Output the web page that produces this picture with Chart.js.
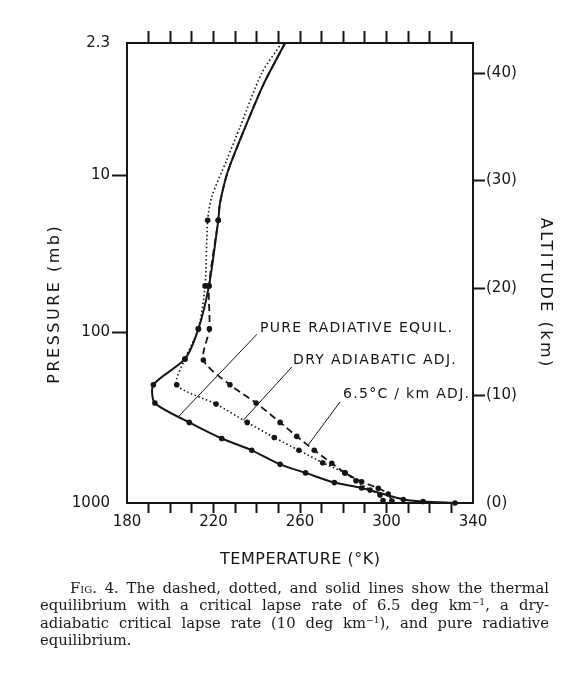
<!DOCTYPE html>
<html>
<head>
<meta charset="utf-8">
<title>Fig. 4 — thermal equilibrium profiles</title>
<script src="https://cdn.jsdelivr.net/npm/chart.js@4.4.1/dist/chart.umd.min.js"></script>
<style>
    html, body { margin: 0; padding: 0; background: #fff; }
    #wrap { position: relative; width: 587px; height: 678px; }
    #chart { position: absolute; left: 0; top: 0; }
    #caption {
        position: absolute; left: 40px; top: 579px; width: 509px;
        font: 14.8px/17.4px "DejaVu Serif", serif; color: #1a1a1a;
    }
    #caption .j { text-align: justify; text-align-last: justify; white-space: nowrap; }
    #caption .sc { font-variant: small-caps; }
    #caption sup { font-size: 0.62em; line-height: 0; vertical-align: 0.5em; }
</style>
</head>
<body>
<div id="wrap">
    <canvas id="chart" width="587" height="678"></canvas>
    <div id="caption">
        <div class="j" style="padding-left:30px"><span class="sc">Fig</span>. 4. The dashed, dotted, and solid lines show the thermal</div>
        <div class="j">equilibrium with a critical lapse rate of 6.5 deg km<sup>−1</sup>, a dry-</div>
        <div class="j">adiabatic critical lapse rate (10 deg km<sup>−1</sup>), and pure radiative</div>
        <div>equilibrium.</div>
    </div>
</div>
<script>
// ─── Data (temperature in K, altitude in km) ─────────────────────────
// pure radiative equilibrium (solid)
const radTemp = [253.1, 243.0, 232.3, 226.4, 223.0, 222.2, 217.9, 213.0, 206.8, 192.2, 192.9,
                 208.8, 223.8, 237.7, 250.8, 262.6, 275.9, 288.5, 307.8, 316.9, 331.7];
const radAlt  = [42.8, 38.9, 33.8, 30.7, 27.9, 26.3, 20.2, 16.2, 13.4, 11.0, 9.3,
                 7.5, 6.0, 4.9, 3.6, 2.8, 1.9, 1.4, 0.33, 0.14, 0];

// 6.5 deg/km critical lapse rate (dashed)
const lapseTemp = [253.1, 243.0, 232.3, 226.4, 223.0, 222.2, 217.9, 218.1, 215.3, 227.6,
                   239.7, 250.8, 258.5, 266.6, 274.7, 280.8, 288.5, 296.2, 300.8, 302.5];
const lapseAlt  = [42.8, 38.9, 33.8, 30.7, 27.9, 26.3, 20.2, 16.2, 13.3, 11.0,
                   9.3, 7.5, 6.2, 4.9, 3.7, 2.8, 1.98, 1.37, 0.84, 0.19];

// dry adiabatic adjustment (dotted)
const dryTemp = [251.5, 242.3, 232.3, 226.1, 219.2, 217.3, 216.1, 213.0, 206.8, 203.0,
                 221.2, 235.6, 248.1, 259.5, 270.5, 280.8, 285.9, 292.4, 297.0, 298.4];
const dryAlt  = [42.8, 40.0, 35.0, 31.9, 28.5, 26.3, 20.2, 16.2, 13.4, 11.0,
                 9.2, 7.5, 6.1, 4.9, 3.75, 2.8, 2.07, 1.21, 0.74, 0.23];

// axis ticks
const tempLabels = [180, 220, 260, 300, 340];
const pressureLabels = ['1000', '100', '10', '2.3'];
const pressureAlt = [0, 15.9, 30.5, 42.8];
const altitudeTicks = [0, 10, 20, 30, 40];

// ─── Styling ─────────────────────────────────────────────────────────
const INK = '#151515';
const TOP_KM = 42.8;
const MARKED_BELOW_KM = 26.5;
const SANS = '"DejaVu Sans", sans-serif';

const callouts = [
    { text: 'PURE RADIATIVE EQUIL.', at: [241.5, 16.23], from: [240.1, 15.7], to: [203.6, 8.0] },
    { text: 'DRY ADIABATIC ADJ.',    at: [256.8, 13.3],  from: [256.2, 12.65], to: [233.8, 7.7] },
    { text: '6.5°C / km ADJ.',       at: [279.9, 10.14], from: [278.5, 9.4],  to: [263.8, 5.4] },
];

function toPoints(xs, ys) {
    return xs.map((v, i) => ({ x: v, y: ys[i] }));
}

function series(xs, ys, dash, width) {
    return {
        data: toPoints(xs, ys),
        showLine: true,
        borderColor: INK,
        backgroundColor: INK,
        borderWidth: width,
        borderDash: dash,
        tension: 0.25,
        clip: false,
        pointBorderWidth: 0,
        pointRadius: ctx => (ctx.raw && ctx.raw.y > MARKED_BELOW_KM ? 0 : 2.8),
    };
}

// hide the tick marks that sit on the frame corners
function innerTick(ctx) {
    const n = ctx.scale.ticks.length;
    return (ctx.index === 0 || ctx.index === n - 1) ? 'rgba(0,0,0,0)' : INK;
}
function innerTickLast(ctx) {
    return ctx.index === 0 ? 'rgba(0,0,0,0)' : INK;
}

function fixedSize(prop, size) {
    return scale => { scale[prop] = size; };
}

// ─── Titles, callouts ───────────────────────────────────────────────
function spacedText(ctx, text, x, y, spacing, angle) {
    ctx.save();
    ctx.translate(x, y);
    ctx.rotate(angle);
    ctx.letterSpacing = spacing + 'px';
    ctx.textAlign = 'center';
    ctx.textBaseline = 'middle';
    ctx.fillText(text, spacing / 2, 0);
    ctx.restore();
}

const overlayPlugin = {
    id: 'overlay',
    afterDraw(chart) {
        const { ctx, chartArea: area } = chart;
        const xs = chart.scales.x, ys = chart.scales.y;
        ctx.save();
        ctx.fillStyle = INK;
        ctx.strokeStyle = INK;

        ctx.lineWidth = 1;
        callouts.forEach(c => {
            ctx.beginPath();
            ctx.moveTo(xs.getPixelForValue(c.from[0]), ys.getPixelForValue(c.from[1]));
            ctx.lineTo(xs.getPixelForValue(c.to[0]), ys.getPixelForValue(c.to[1]));
            ctx.stroke();
        });

        ctx.font = '14px ' + SANS;
        callouts.forEach(c => {
            ctx.save();
            ctx.letterSpacing = '1.3px';
            ctx.textAlign = 'left';
            ctx.textBaseline = 'middle';
            ctx.fillText(c.text, xs.getPixelForValue(c.at[0]), ys.getPixelForValue(c.at[1]));
            ctx.restore();
        });

        ctx.font = '16px ' + SANS;
        spacedText(ctx, 'TEMPERATURE (°K)', (area.left + area.right) / 2, area.bottom + 57, 0.5, 0);
        spacedText(ctx, 'PRESSURE (mb)', 55, 305, 2.5, -Math.PI / 2);
        spacedText(ctx, 'ALTITUDE (km)', 545, 292, 2.5, Math.PI / 2);
        ctx.restore();
    },
};

// ─── Chart ──────────────────────────────────────────────────────────
const tickFont = { family: SANS, size: 15 };

new Chart(document.getElementById('chart'), {
    type: 'scatter',
    data: {
        datasets: [
            series(radTemp, radAlt, [], 2),
            series(lapseTemp, lapseAlt, [7, 4], 1.8),
            series(dryTemp, dryAlt, [1.5, 2.5], 1.6),
        ],
    },
    options: {
        responsive: false,
        animation: false,
        layout: { padding: 0 },
        plugins: { legend: { display: false }, tooltip: { enabled: false } },
        scales: {
            x: {
                type: 'linear', position: 'bottom', min: 180, max: 340,
                afterFit: fixedSize('height', 175),
                border: { color: INK, width: 2 },
                grid: { drawOnChartArea: false, tickLength: 10, tickWidth: 2, tickColor: innerTick },
                ticks: {
                    stepSize: 10, autoSkip: false, maxRotation: 0, padding: 0,
                    color: INK, font: tickFont,
                    callback: v => (tempLabels.includes(v) ? String(v) : ''),
                },
            },
            x2: {
                type: 'linear', position: 'top', min: 180, max: 340,
                afterFit: fixedSize('height', 43),
                border: { color: INK, width: 2 },
                grid: { drawOnChartArea: false, tickLength: 12, tickWidth: 2, tickColor: innerTick },
                ticks: { stepSize: 10, autoSkip: false, maxRotation: 0, callback: () => '' },
            },
            y: {
                type: 'linear', position: 'left', min: 0, max: TOP_KM,
                afterFit: fixedSize('width', 127),
                afterBuildTicks: scale => { scale.ticks = pressureAlt.map(v => ({ value: v })); },
                border: { color: INK, width: 2 },
                grid: { drawOnChartArea: false, tickLength: 15, tickWidth: 2, tickColor: innerTick },
                ticks: {
                    padding: 2, color: INK, font: tickFont,
                    callback: (v, i) => pressureLabels[i],
                },
            },
            y2: {
                type: 'linear', position: 'right', min: 0, max: TOP_KM,
                afterFit: fixedSize('width', 114),
                afterBuildTicks: scale => { scale.ticks = altitudeTicks.map(v => ({ value: v })); },
                border: { color: INK, width: 2 },
                grid: { drawOnChartArea: false, tickLength: 12, tickWidth: 2, tickColor: innerTickLast },
                ticks: {
                    padding: 1, color: INK, font: tickFont,
                    callback: v => '(' + v + ')',
                },
            },
        },
    },
    plugins: [overlayPlugin],
});
</script>
</body>
</html>
